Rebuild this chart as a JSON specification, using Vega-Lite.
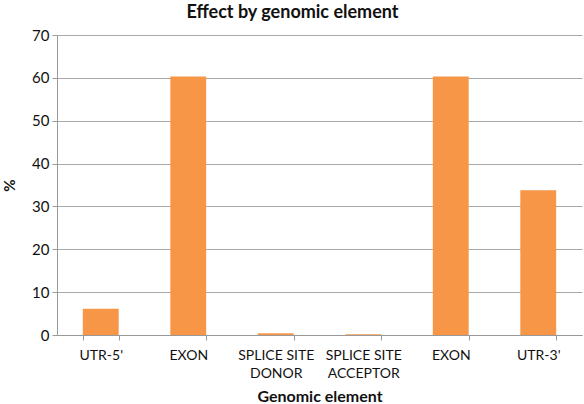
{
  "$schema": "https://vega.github.io/schema/vega-lite/v6.json",
  "width": 525,
  "height": 300,
  "autosize": {"type": "none"},
  "padding": {"left": 57, "top": 35, "right": 2, "bottom": 69},
  "background": "white",
  "title": {
    "text": "Effect by genomic element",
    "font": "Lato",
    "fontSize": 18,
    "fontWeight": "bold",
    "color": "#111",
    "anchor": "middle",
    "dx": -27,
    "offset": 6
  },
  "data": {
    "values": [
      {"element": "UTR-5'", "percent": 6.1},
      {"element": "EXON|1", "percent": 60.3},
      {"element": "SPLICE SITE|DONOR", "percent": 0.4},
      {"element": "SPLICE SITE|ACCEPTOR", "percent": 0.2},
      {"element": "EXON|2", "percent": 60.3},
      {"element": "UTR-3'", "percent": 33.8}
    ]
  },
  "mark": {"type": "bar", "color": "#F79646"},
  "encoding": {
    "x": {
      "field": "element",
      "type": "nominal",
      "sort": null,
      "scale": {"paddingInner": 0.59, "paddingOuter": 0.295},
      "axis": {
        "title": "Genomic element",
        "titleFont": "Lato",
        "titleFontSize": 16,
        "titleFontWeight": "bold",
        "titleColor": "#111",
        "titlePadding": 8,
        "labelAngle": 0,
        "labelFont": "Lato",
        "labelFontSize": 14,
        "labelColor": "#111",
        "labelPadding": 8,
        "labelLineHeight": 18,
        "labelExpr": "isValid(datum.value) ? (test(/^EXON/, datum.value) ? 'EXON' : split(datum.value, '|')) : ''",
        "tickBand": "extent",
        "tickSize": 5,
        "tickColor": "#999",
        "domainColor": "#999",
        "grid": false
      }
    },
    "y": {
      "field": "percent",
      "type": "quantitative",
      "scale": {"domain": [0, 70], "nice": false},
      "axis": {
        "title": "%",
        "titleFont": "Lato",
        "titleFontSize": 15,
        "titleFontWeight": "bold",
        "titleColor": "#111",
        "titlePadding": 14,
        "values": [0, 10, 20, 30, 40, 50, 60, 70],
        "labelFont": "Lato",
        "labelFontSize": 15,
        "labelColor": "#111",
        "labelPadding": 3,
        "tickSize": 5,
        "tickColor": "#999",
        "domainColor": "#999",
        "gridColor": "#aaa",
        "grid": true
      }
    }
  },
  "config": {"view": {"stroke": null}}
}
